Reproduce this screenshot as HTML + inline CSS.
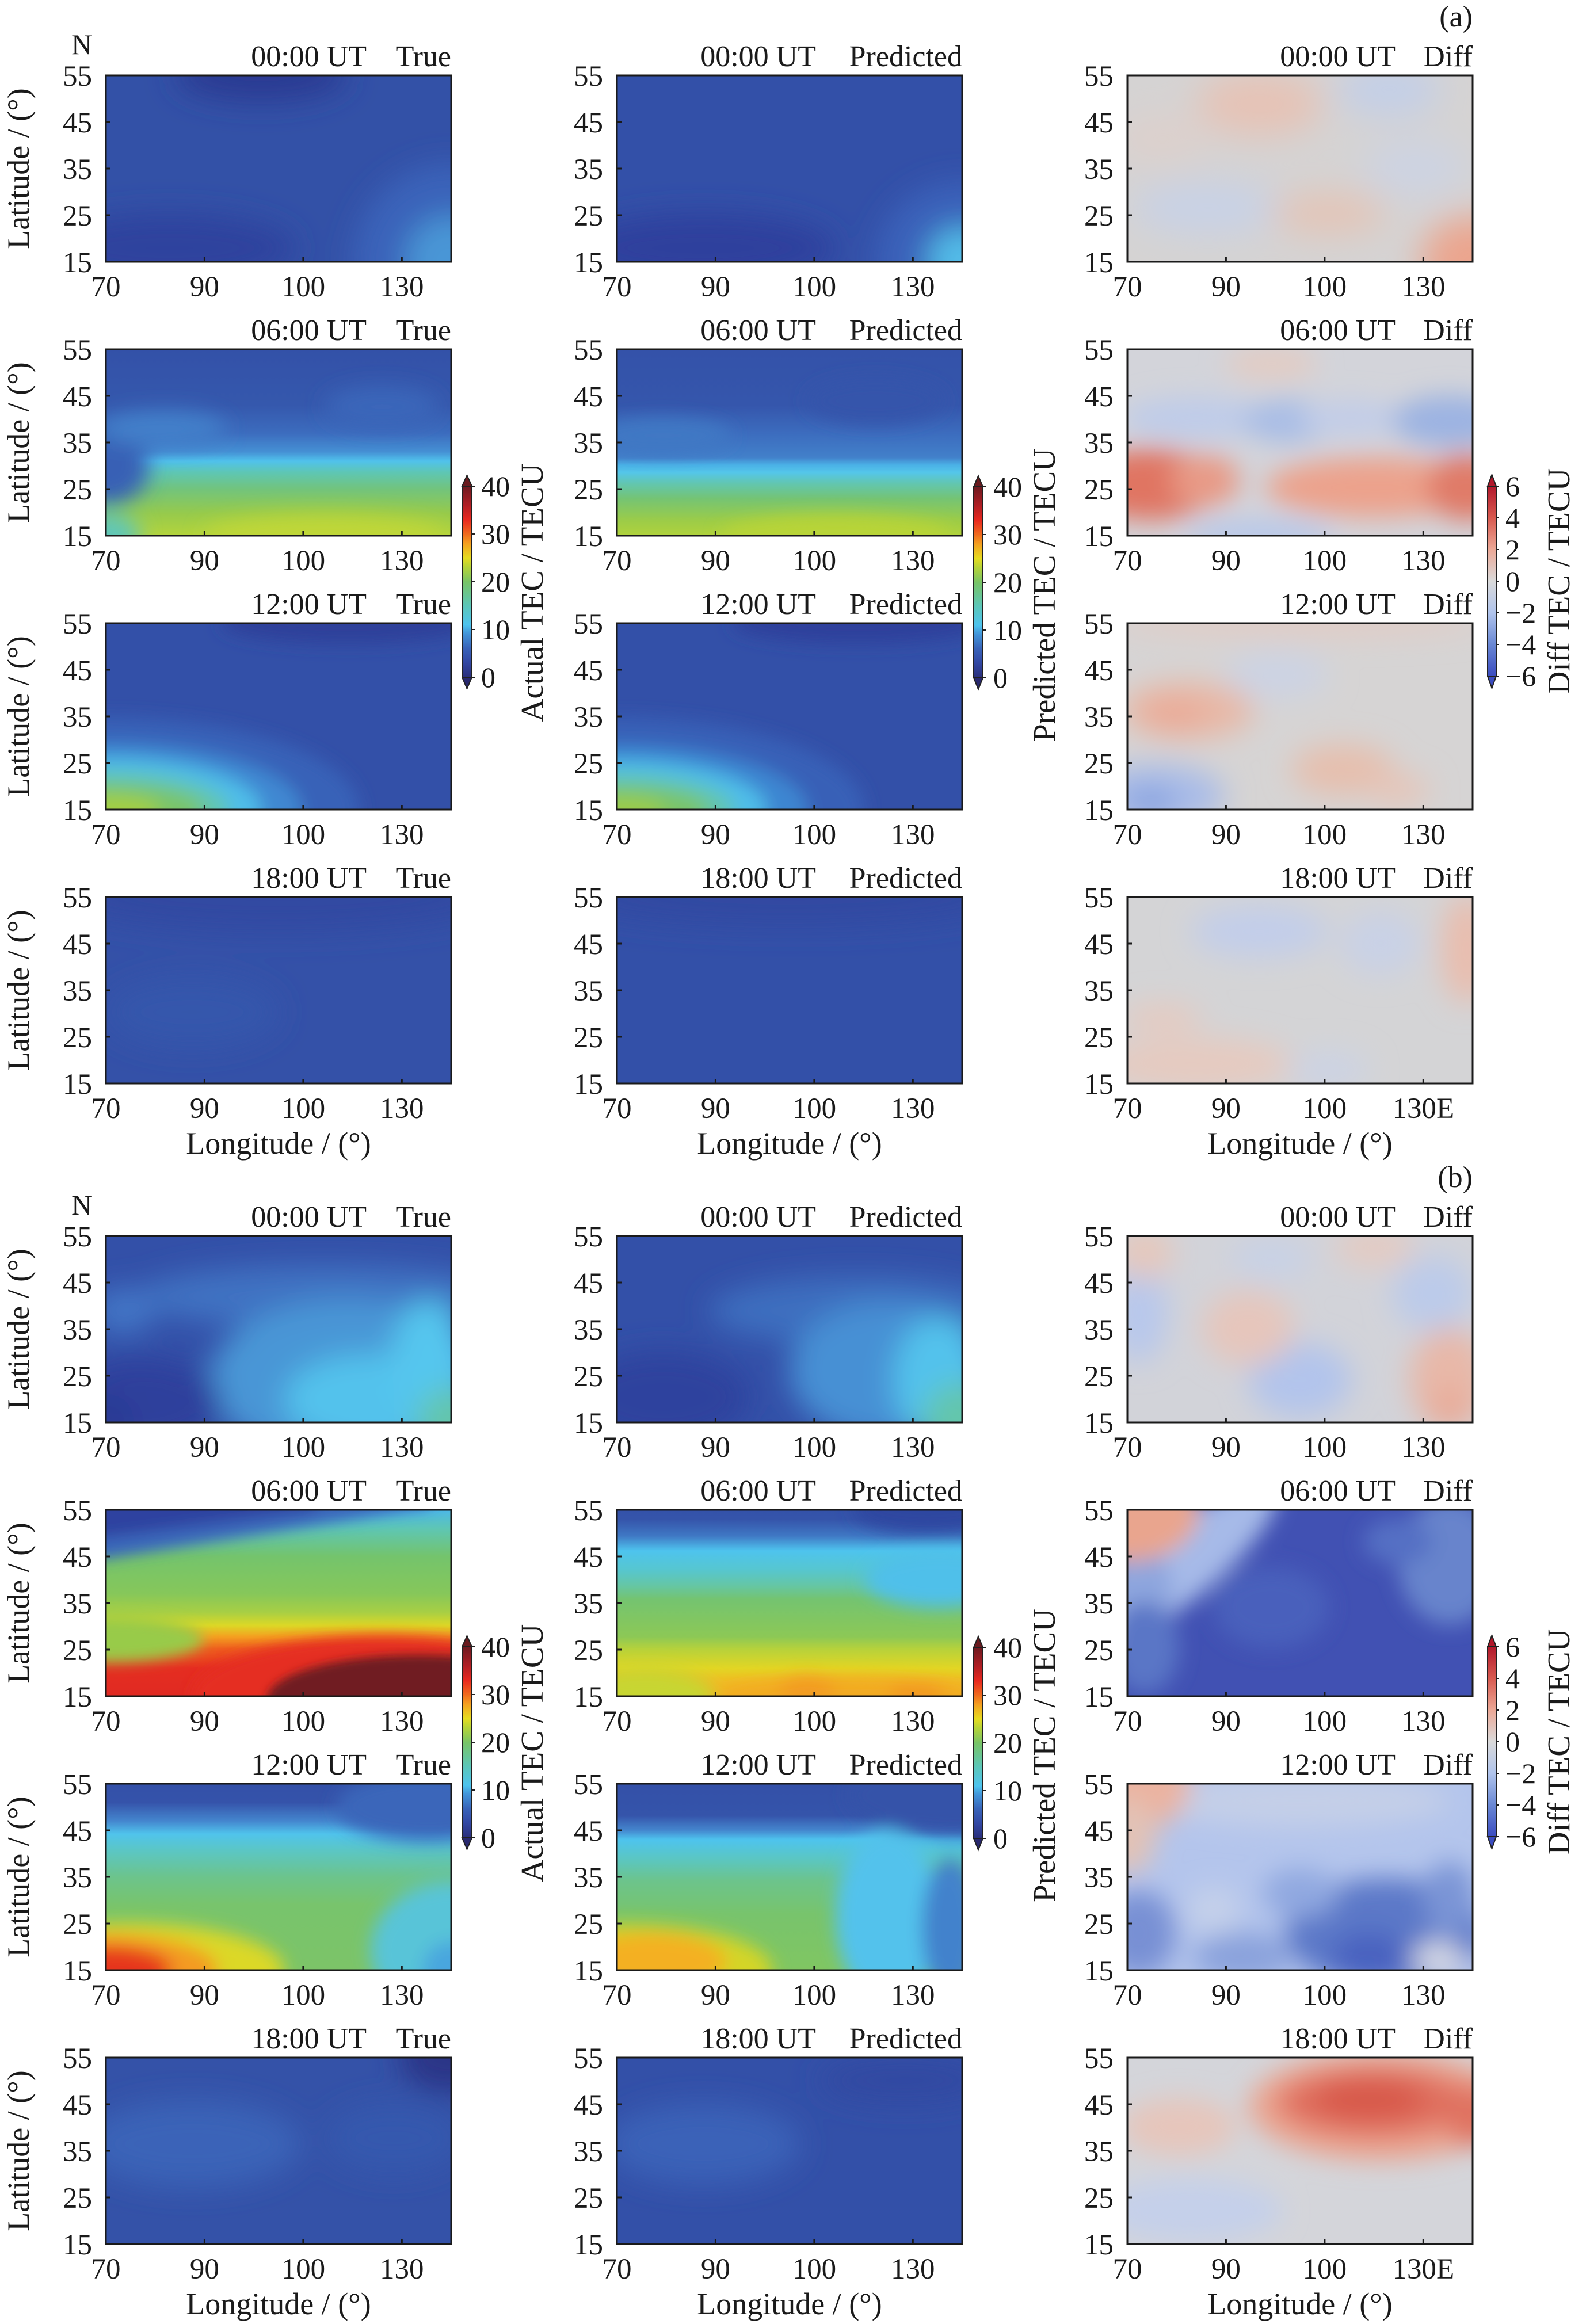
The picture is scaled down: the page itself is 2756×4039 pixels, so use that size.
<!DOCTYPE html>
<html>
<head>
<meta charset="utf-8">
<style>
html,body{margin:0;padding:0;background:#fff;}
svg{display:block;}
text{font-family:"Liberation Serif","DejaVu Serif",serif;fill:#1a1a1a;}
.yl text{font-size:51px;text-anchor:end;}
.xl text{font-size:51px;text-anchor:middle;}
.ti{font-size:52px;text-anchor:end;}
.ax{font-size:54px;text-anchor:middle;}
.cl{font-size:50px;}
.ct{font-size:55px;text-anchor:middle;}
</style>
</head>
<body>
<svg width="2756" height="4039" viewBox="0 0 2756 4039" xmlns="http://www.w3.org/2000/svg">
<defs>
<clipPath id="cp"><rect x="0" y="0" width="600" height="324"/></clipPath>
<filter id="f8" filterUnits="userSpaceOnUse" x="-400" y="-400" width="1400" height="1124"><feGaussianBlur stdDeviation="8"/></filter>
<filter id="f12" filterUnits="userSpaceOnUse" x="-400" y="-400" width="1400" height="1124"><feGaussianBlur stdDeviation="12"/></filter>
<filter id="f15" filterUnits="userSpaceOnUse" x="-400" y="-400" width="1400" height="1124"><feGaussianBlur stdDeviation="15"/></filter>
<filter id="f18" filterUnits="userSpaceOnUse" x="-400" y="-400" width="1400" height="1124"><feGaussianBlur stdDeviation="18"/></filter>
<filter id="f22" filterUnits="userSpaceOnUse" x="-400" y="-400" width="1400" height="1124"><feGaussianBlur stdDeviation="22"/></filter>
<filter id="f25" filterUnits="userSpaceOnUse" x="-400" y="-400" width="1400" height="1124"><feGaussianBlur stdDeviation="25"/></filter>
<filter id="f30" filterUnits="userSpaceOnUse" x="-400" y="-400" width="1400" height="1124"><feGaussianBlur stdDeviation="30"/></filter>
<linearGradient id="cbT" x1="0" y1="0" x2="0" y2="1">
<stop offset="0" stop-color="#6e1a20"/><stop offset="0.1" stop-color="#b01e24"/><stop offset="0.175" stop-color="#e8281f"/>
<stop offset="0.25" stop-color="#f06a1e"/><stop offset="0.3" stop-color="#f4a020"/><stop offset="0.375" stop-color="#e6dc20"/>
<stop offset="0.42" stop-color="#b8d436"/><stop offset="0.5" stop-color="#78c466"/><stop offset="0.625" stop-color="#5cc6b8"/>
<stop offset="0.725" stop-color="#4ec4ee"/><stop offset="0.77" stop-color="#4296da"/><stop offset="0.85" stop-color="#3862b8"/>
<stop offset="0.92" stop-color="#3248a4"/><stop offset="1" stop-color="#2a2f7c"/>
</linearGradient>
<linearGradient id="cbD" x1="0" y1="0" x2="0" y2="1">
<stop offset="0" stop-color="#b2182b"/><stop offset="0.167" stop-color="#d85a50"/><stop offset="0.333" stop-color="#eca896"/>
<stop offset="0.5" stop-color="#dadada"/><stop offset="0.667" stop-color="#b0c4ec"/><stop offset="0.833" stop-color="#6a88d4"/>
<stop offset="1" stop-color="#3b4cc0"/>
</linearGradient>
<linearGradient id="ga2t" x1="0" y1="0" x2="0" y2="1">
<stop offset="0" stop-color="#3351a8"/><stop offset="0.3" stop-color="#3558ad"/><stop offset="0.45" stop-color="#3c6cbe"/>
<stop offset="0.55" stop-color="#4590d4"/><stop offset="0.6" stop-color="#50c2ec"/><stop offset="0.66" stop-color="#5ec6b4"/>
<stop offset="0.75" stop-color="#72c47c"/><stop offset="0.88" stop-color="#96ca4c"/><stop offset="1" stop-color="#b4d43c"/>
</linearGradient>
<linearGradient id="ga2p" x1="0" y1="0" x2="0" y2="1">
<stop offset="0" stop-color="#3452a9"/><stop offset="0.3" stop-color="#3556ac"/><stop offset="0.45" stop-color="#3c6cbe"/>
<stop offset="0.58" stop-color="#4280ca"/><stop offset="0.62" stop-color="#4ab0e6"/><stop offset="0.66" stop-color="#54c6ea"/>
<stop offset="0.72" stop-color="#62c6b0"/><stop offset="0.8" stop-color="#74c474"/><stop offset="0.92" stop-color="#9ccc48"/>
<stop offset="1" stop-color="#b0d23c"/>
</linearGradient>
<linearGradient id="gb2t" x1="0" y1="0" x2="0" y2="1">
<stop offset="0" stop-color="#4cb8e8"/><stop offset="0.1" stop-color="#5ec6b4"/><stop offset="0.25" stop-color="#74c46c"/>
<stop offset="0.45" stop-color="#86c75a"/><stop offset="0.55" stop-color="#a8cf44"/><stop offset="0.62" stop-color="#dcd826"/>
<stop offset="0.68" stop-color="#f4a020"/><stop offset="0.75" stop-color="#ee5a1e"/><stop offset="0.85" stop-color="#e52d21"/>
<stop offset="1" stop-color="#e02a22"/>
</linearGradient>
<linearGradient id="gb2p" x1="0" y1="0" x2="0" y2="1">
<stop offset="0" stop-color="#3452a9"/><stop offset="0.05" stop-color="#3554aa"/><stop offset="0.14" stop-color="#3f78c4"/>
<stop offset="0.22" stop-color="#4ec4ee"/><stop offset="0.32" stop-color="#56c6d0"/><stop offset="0.4" stop-color="#64c6a8"/>
<stop offset="0.48" stop-color="#74c470"/><stop offset="0.68" stop-color="#8cc856"/><stop offset="0.75" stop-color="#b8d23a"/>
<stop offset="0.85" stop-color="#e2d624"/><stop offset="0.92" stop-color="#f0bc24"/><stop offset="1" stop-color="#f2b020"/>
</linearGradient>
<linearGradient id="gb3t" x1="0" y1="0" x2="0" y2="1">
<stop offset="0" stop-color="#3350a8"/><stop offset="0.1" stop-color="#3553aa"/><stop offset="0.2" stop-color="#4486ce"/>
<stop offset="0.27" stop-color="#50c4ec"/><stop offset="0.35" stop-color="#5ac6c8"/><stop offset="0.5" stop-color="#6cc48c"/>
<stop offset="0.65" stop-color="#78c46c"/><stop offset="1" stop-color="#7cc468"/>
</linearGradient>
<linearGradient id="gb3p" x1="0" y1="0" x2="0" y2="1">
<stop offset="0" stop-color="#3350a8"/><stop offset="0.17" stop-color="#3554aa"/><stop offset="0.25" stop-color="#4486ce"/>
<stop offset="0.3" stop-color="#4ec4ee"/><stop offset="0.4" stop-color="#5ac6c4"/><stop offset="0.52" stop-color="#6cc48c"/>
<stop offset="0.7" stop-color="#78c46c"/><stop offset="1" stop-color="#80c662"/>
</linearGradient>
<g id="fr">
<rect x="0" y="0" width="600" height="324" fill="none" stroke="#1a1a1a" stroke-width="3"/>
<path d="M0 81h8M0 162h8M0 243h8M171.4 324v-8M342.9 324v-8M514.3 324v-8" stroke="#1a1a1a" stroke-width="3"/>
</g>
</defs>

<!-- ===================== (a) ===================== -->
<text x="2559" y="46" style="font-size:52px;text-anchor:end">(a)</text>
<text x="142" y="94" style="font-size:50px;text-anchor:middle">N</text>

<!-- a row1 True -->
<g transform="translate(184,131)">
<g clip-path="url(#cp)"><rect width="600" height="324" fill="#3351a7"/>
<g filter="url(#f25)">
<ellipse cx="270" cy="0" rx="150" ry="45" fill="#2b3b93"/>
<ellipse cx="110" cy="300" rx="220" ry="60" fill="#2e429e"/>
<ellipse cx="600" cy="324" rx="170" ry="170" fill="#3b64ba"/>
<ellipse cx="600" cy="324" rx="80" ry="80" fill="#4a96d6"/>
</g></g>
<use href="#fr"/>
<g class="yl"><text x="-24" y="18">55</text><text x="-24" y="99">45</text><text x="-24" y="180">35</text><text x="-24" y="261">25</text><text x="-24" y="342">15</text></g>
<g class="xl"><text x="0" y="384">70</text><text x="171.4" y="384">90</text><text x="342.9" y="384">100</text><text x="514.3" y="384">130</text></g>
<text class="ti" x="453" y="-16">00:00 UT</text><text class="ti" x="600" y="-16">True</text>
</g>
<!-- a row1 Pred -->
<g transform="translate(1072,131)">
<g clip-path="url(#cp)"><rect width="600" height="324" fill="#3350a8"/>
<g filter="url(#f25)">
<ellipse cx="150" cy="300" rx="230" ry="60" fill="#2e419d"/>
<ellipse cx="600" cy="324" rx="150" ry="140" fill="#3a62ba"/>
<ellipse cx="600" cy="324" rx="60" ry="60" fill="#52bce8"/>
</g></g>
<use href="#fr"/>
<g class="yl"><text x="-24" y="18">55</text><text x="-24" y="99">45</text><text x="-24" y="180">35</text><text x="-24" y="261">25</text><text x="-24" y="342">15</text></g>
<g class="xl"><text x="0" y="384">70</text><text x="171.4" y="384">90</text><text x="342.9" y="384">100</text><text x="514.3" y="384">130</text></g>
<text class="ti" x="346" y="-16">00:00 UT</text><text class="ti" x="600" y="-16">Predicted</text>
</g>
<!-- a row1 Diff -->
<g transform="translate(1959,131)">
<g clip-path="url(#cp)"><rect width="600" height="324" fill="#d5d3d3"/>
<g filter="url(#f30)">
<ellipse cx="230" cy="50" rx="110" ry="55" fill="#e6c3b6"/>
<ellipse cx="455" cy="25" rx="90" ry="45" fill="#c3cfe8"/>
<ellipse cx="140" cy="230" rx="130" ry="45" fill="#c8d2e6"/>
<ellipse cx="350" cy="240" rx="100" ry="35" fill="#e4c4b6"/>
<ellipse cx="600" cy="324" rx="90" ry="80" fill="#eba58e"/>
<ellipse cx="60" cy="110" rx="80" ry="40" fill="#ddd0cc"/>
<ellipse cx="500" cy="160" rx="90" ry="50" fill="#cdd3e2"/>
</g></g>
<use href="#fr"/>
<g class="yl"><text x="-24" y="18">55</text><text x="-24" y="99">45</text><text x="-24" y="180">35</text><text x="-24" y="261">25</text><text x="-24" y="342">15</text></g>
<g class="xl"><text x="0" y="384">70</text><text x="171.4" y="384">90</text><text x="342.9" y="384">100</text><text x="514.3" y="384">130</text></g>
<text class="ti" x="466" y="-16">00:00 UT</text><text class="ti" x="600" y="-16">Diff</text>
</g>

<!-- a row2 True -->
<g transform="translate(184,607)">
<g clip-path="url(#cp)"><rect width="600" height="324" fill="url(#ga2t)"/>
<g filter="url(#f18)">
<ellipse cx="0" cy="205" rx="75" ry="65" fill="#3860b5"/>
<ellipse cx="100" cy="138" rx="110" ry="30" fill="#4280ca"/>
<ellipse cx="480" cy="100" rx="100" ry="35" fill="#3a66ba"/>
<ellipse cx="0" cy="324" rx="60" ry="40" fill="#5ec6b8"/>
<ellipse cx="380" cy="324" rx="210" ry="35" fill="#c0d738"/>
</g></g>
<use href="#fr"/>
<g class="yl"><text x="-24" y="18">55</text><text x="-24" y="99">45</text><text x="-24" y="180">35</text><text x="-24" y="261">25</text><text x="-24" y="342">15</text></g>
<g class="xl"><text x="0" y="384">70</text><text x="171.4" y="384">90</text><text x="342.9" y="384">100</text><text x="514.3" y="384">130</text></g>
<text class="ti" x="453" y="-16">06:00 UT</text><text class="ti" x="600" y="-16">True</text>
</g>
<!-- a row2 Pred -->
<g transform="translate(1072,607)">
<g clip-path="url(#cp)"><rect width="600" height="324" fill="url(#ga2p)"/>
<g filter="url(#f15)">
<ellipse cx="380" cy="324" rx="200" ry="35" fill="#b8d438"/>
<ellipse cx="80" cy="150" rx="120" ry="30" fill="#3f78c4"/>
<ellipse cx="450" cy="90" rx="120" ry="40" fill="#3454ab"/>
</g></g>
<use href="#fr"/>
<g class="yl"><text x="-24" y="18">55</text><text x="-24" y="99">45</text><text x="-24" y="180">35</text><text x="-24" y="261">25</text><text x="-24" y="342">15</text></g>
<g class="xl"><text x="0" y="384">70</text><text x="171.4" y="384">90</text><text x="342.9" y="384">100</text><text x="514.3" y="384">130</text></g>
<text class="ti" x="346" y="-16">06:00 UT</text><text class="ti" x="600" y="-16">Predicted</text>
</g>
<!-- a row2 Diff -->
<g transform="translate(1959,607)">
<g clip-path="url(#cp)"><rect width="600" height="324" fill="#d3d4da"/>
<g filter="url(#f22)">
<ellipse cx="250" cy="25" rx="80" ry="30" fill="#e2ccc4"/>
<ellipse cx="120" cy="120" rx="130" ry="38" fill="#bfcce9"/>
<ellipse cx="280" cy="125" rx="80" ry="38" fill="#a9bde6"/>
<ellipse cx="390" cy="120" rx="90" ry="32" fill="#c2cde8"/>
<ellipse cx="560" cy="125" rx="100" ry="45" fill="#9cb3e2"/>
<ellipse cx="40" cy="235" rx="120" ry="62" fill="#e07462"/>
<ellipse cx="135" cy="228" rx="60" ry="45" fill="#e89a86"/>
<ellipse cx="430" cy="240" rx="190" ry="52" fill="#eca28c"/>
<ellipse cx="590" cy="240" rx="70" ry="58" fill="#e07a68"/>
<ellipse cx="230" cy="322" rx="130" ry="26" fill="#b7c8ea"/>
</g></g>
<use href="#fr"/>
<g class="yl"><text x="-24" y="18">55</text><text x="-24" y="99">45</text><text x="-24" y="180">35</text><text x="-24" y="261">25</text><text x="-24" y="342">15</text></g>
<g class="xl"><text x="0" y="384">70</text><text x="171.4" y="384">90</text><text x="342.9" y="384">100</text><text x="514.3" y="384">130</text></g>
<text class="ti" x="466" y="-16">06:00 UT</text><text class="ti" x="600" y="-16">Diff</text>
</g>

<!-- a row3 True -->
<g transform="translate(184,1083)">
<g clip-path="url(#cp)"><rect width="600" height="324" fill="#3350a8"/>
<g filter="url(#f15)">
<ellipse cx="420" cy="0" rx="220" ry="35" fill="#2d3f9a"/>
<ellipse cx="0" cy="324" rx="440" ry="160" fill="#3862b8"/>
<ellipse cx="0" cy="324" rx="340" ry="115" fill="#3f88d2"/>
<ellipse cx="0" cy="324" rx="270" ry="90" fill="#4fbde9"/>
<ellipse cx="0" cy="324" rx="215" ry="66" fill="#62c6b0"/>
<ellipse cx="0" cy="324" rx="170" ry="44" fill="#7ac467"/>
<ellipse cx="0" cy="324" rx="95" ry="25" fill="#a4cf42"/>
</g></g>
<use href="#fr"/>
<g class="yl"><text x="-24" y="18">55</text><text x="-24" y="99">45</text><text x="-24" y="180">35</text><text x="-24" y="261">25</text><text x="-24" y="342">15</text></g>
<g class="xl"><text x="0" y="384">70</text><text x="171.4" y="384">90</text><text x="342.9" y="384">100</text><text x="514.3" y="384">130</text></g>
<text class="ti" x="453" y="-16">12:00 UT</text><text class="ti" x="600" y="-16">True</text>
</g>
<!-- a row3 Pred -->
<g transform="translate(1072,1083)">
<g clip-path="url(#cp)"><rect width="600" height="324" fill="#3350a8"/>
<g filter="url(#f15)">
<ellipse cx="420" cy="0" rx="220" ry="35" fill="#2e409b"/>
<ellipse cx="0" cy="324" rx="430" ry="160" fill="#3760b7"/>
<ellipse cx="0" cy="324" rx="330" ry="112" fill="#3e86d1"/>
<ellipse cx="0" cy="324" rx="260" ry="86" fill="#4fbde9"/>
<ellipse cx="0" cy="324" rx="205" ry="62" fill="#62c6b0"/>
<ellipse cx="0" cy="324" rx="160" ry="40" fill="#7ac467"/>
<ellipse cx="0" cy="324" rx="85" ry="22" fill="#9ccc48"/>
</g></g>
<use href="#fr"/>
<g class="yl"><text x="-24" y="18">55</text><text x="-24" y="99">45</text><text x="-24" y="180">35</text><text x="-24" y="261">25</text><text x="-24" y="342">15</text></g>
<g class="xl"><text x="0" y="384">70</text><text x="171.4" y="384">90</text><text x="342.9" y="384">100</text><text x="514.3" y="384">130</text></g>
<text class="ti" x="346" y="-16">12:00 UT</text><text class="ti" x="600" y="-16">Predicted</text>
</g>
<!-- a row3 Diff -->
<g transform="translate(1959,1083)">
<g clip-path="url(#cp)"><rect width="600" height="324" fill="#d6d4d4"/>
<g filter="url(#f25)">
<ellipse cx="300" cy="0" rx="320" ry="20" fill="#e3cac2"/>
<ellipse cx="105" cy="152" rx="115" ry="50" fill="#e8b8a6"/>
<ellipse cx="80" cy="158" rx="55" ry="30" fill="#eaab98"/>
<ellipse cx="50" cy="300" rx="120" ry="55" fill="#a9bce8"/>
<ellipse cx="40" cy="312" rx="45" ry="26" fill="#87a2df"/>
<ellipse cx="260" cy="90" rx="90" ry="40" fill="#ccd3e4"/>
<ellipse cx="375" cy="255" rx="90" ry="45" fill="#e6bfae"/>
<ellipse cx="470" cy="290" rx="55" ry="30" fill="#e5c6ba"/>
</g></g>
<use href="#fr"/>
<g class="yl"><text x="-24" y="18">55</text><text x="-24" y="99">45</text><text x="-24" y="180">35</text><text x="-24" y="261">25</text><text x="-24" y="342">15</text></g>
<g class="xl"><text x="0" y="384">70</text><text x="171.4" y="384">90</text><text x="342.9" y="384">100</text><text x="514.3" y="384">130</text></g>
<text class="ti" x="466" y="-16">12:00 UT</text><text class="ti" x="600" y="-16">Diff</text>
</g>

<!-- a row4 True -->
<g transform="translate(184,1559)">
<g clip-path="url(#cp)"><rect width="600" height="324" fill="#3451a8"/>
<g filter="url(#f25)">
<ellipse cx="300" cy="0" rx="380" ry="60" fill="#3048a2"/>
<ellipse cx="150" cy="200" rx="150" ry="60" fill="#3556ac"/>
</g></g>
<use href="#fr"/>
<g class="yl"><text x="-24" y="18">55</text><text x="-24" y="99">45</text><text x="-24" y="180">35</text><text x="-24" y="261">25</text><text x="-24" y="342">15</text></g>
<g class="xl"><text x="0" y="384">70</text><text x="171.4" y="384">90</text><text x="342.9" y="384">100</text><text x="514.3" y="384">130</text></g>
<text class="ti" x="453" y="-16">18:00 UT</text><text class="ti" x="600" y="-16">True</text>
<text class="ax" x="300" y="446">Longitude / (°)</text>
</g>
<!-- a row4 Pred -->
<g transform="translate(1072,1559)">
<g clip-path="url(#cp)"><rect width="600" height="324" fill="#3350a8"/>
<g filter="url(#f25)">
<ellipse cx="300" cy="0" rx="380" ry="50" fill="#3149a2"/>
</g></g>
<use href="#fr"/>
<g class="yl"><text x="-24" y="18">55</text><text x="-24" y="99">45</text><text x="-24" y="180">35</text><text x="-24" y="261">25</text><text x="-24" y="342">15</text></g>
<g class="xl"><text x="0" y="384">70</text><text x="171.4" y="384">90</text><text x="342.9" y="384">100</text><text x="514.3" y="384">130</text></g>
<text class="ti" x="346" y="-16">18:00 UT</text><text class="ti" x="600" y="-16">Predicted</text>
<text class="ax" x="300" y="446">Longitude / (°)</text>
</g>
<!-- a row4 Diff -->
<g transform="translate(1959,1559)">
<g clip-path="url(#cp)"><rect width="600" height="324" fill="#d4d4d6"/>
<g filter="url(#f25)">
<ellipse cx="230" cy="60" rx="120" ry="45" fill="#c2ceea"/>
<ellipse cx="440" cy="80" rx="70" ry="55" fill="#c9d1e6"/>
<ellipse cx="590" cy="90" rx="45" ry="95" fill="#e9bdae"/>
<ellipse cx="120" cy="290" rx="170" ry="45" fill="#e6cac0"/>
<ellipse cx="60" cy="210" rx="70" ry="25" fill="#e6cac0"/>
<ellipse cx="350" cy="300" rx="70" ry="32" fill="#ccd3e4"/>
</g></g>
<use href="#fr"/>
<g class="yl"><text x="-24" y="18">55</text><text x="-24" y="99">45</text><text x="-24" y="180">35</text><text x="-24" y="261">25</text><text x="-24" y="342">15</text></g>
<g class="xl"><text x="0" y="384">70</text><text x="171.4" y="384">90</text><text x="342.9" y="384">100</text><text x="514.3" y="384">130E</text></g>
<text class="ti" x="466" y="-16">18:00 UT</text><text class="ti" x="600" y="-16">Diff</text>
<text class="ax" x="300" y="446">Longitude / (°)</text>
</g>

<!-- latitude labels (a) -->
<text class="ax" transform="translate(50,293) rotate(-90)">Latitude / (°)</text>
<text class="ax" transform="translate(50,769) rotate(-90)">Latitude / (°)</text>
<text class="ax" transform="translate(50,1245) rotate(-90)">Latitude / (°)</text>
<text class="ax" transform="translate(50,1721) rotate(-90)">Latitude / (°)</text>

<!-- colorbars (a) -->
<g>
<rect x="803" y="845" width="17" height="332" fill="url(#cbT)" stroke="#222" stroke-width="2"/>
<path d="M803 845 L811.5 826 L820 845Z" fill="#6a1a1e" stroke="#222" stroke-width="2"/>
<path d="M803 1177 L811.5 1197 L820 1177Z" fill="#28286e" stroke="#222" stroke-width="2"/>
<path d="M820 845h5M820 928h5M820 1011h5M820 1094h5M820 1177h5" stroke="#222" stroke-width="2"/>
<text class="cl" x="836" y="862">40</text><text class="cl" x="836" y="945">30</text><text class="cl" x="836" y="1028">20</text><text class="cl" x="836" y="1111">10</text><text class="cl" x="836" y="1194">0</text>
<text class="ct" transform="translate(943,1030) rotate(-90)">Actual TEC / TECU</text>

<rect x="1692" y="846" width="16" height="332" fill="url(#cbT)" stroke="#222" stroke-width="2"/>
<path d="M1692 846 L1700 827 L1708 846Z" fill="#6a1a1e" stroke="#222" stroke-width="2"/>
<path d="M1692 1178 L1700 1198 L1708 1178Z" fill="#28286e" stroke="#222" stroke-width="2"/>
<path d="M1708 846h5M1708 929h5M1708 1012h5M1708 1095h5M1708 1178h5" stroke="#222" stroke-width="2"/>
<text class="cl" x="1726" y="863">40</text><text class="cl" x="1726" y="946">30</text><text class="cl" x="1726" y="1029">20</text><text class="cl" x="1726" y="1112">10</text><text class="cl" x="1726" y="1195">0</text>
<text class="ct" transform="translate(1833,1034) rotate(-90)">Predicted TEC / TECU</text>

<rect x="2585" y="845" width="15" height="330" fill="url(#cbD)" stroke="#222" stroke-width="2"/>
<path d="M2585 845 L2592.5 825 L2600 845Z" fill="#b2182b" stroke="#222" stroke-width="2"/>
<path d="M2585 1175 L2592.5 1196 L2600 1175Z" fill="#3b4cc0" stroke="#222" stroke-width="2"/>
<path d="M2600 845h5M2600 900h5M2600 955h5M2600 1010h5M2600 1065h5M2600 1120h5M2600 1175h5" stroke="#222" stroke-width="2"/>
<text class="cl" x="2616" y="862">6</text><text class="cl" x="2616" y="917">4</text><text class="cl" x="2616" y="972">2</text><text class="cl" x="2616" y="1027">0</text><text class="cl" x="2616" y="1082">−2</text><text class="cl" x="2616" y="1137">−4</text><text class="cl" x="2616" y="1192">−6</text>
<text class="ct" transform="translate(2727,1010) rotate(-90)">Diff TEC / TECU</text>
</g>

<!-- ===================== (b) ===================== -->
<text x="2559" y="2063" style="font-size:52px;text-anchor:end">(b)</text>
<text x="142" y="2111" style="font-size:50px;text-anchor:middle">N</text>

<!-- b row1 True -->
<g transform="translate(184,2148)">
<g clip-path="url(#cp)"><rect width="600" height="324" fill="#3350a8"/>
<g filter="url(#f25)">
<ellipse cx="380" cy="105" rx="330" ry="55" fill="#3f72c2"/>
<ellipse cx="30" cy="130" rx="55" ry="40" fill="#4276c6"/>
<ellipse cx="420" cy="250" rx="240" ry="140" fill="#4a96d6"/>
<ellipse cx="460" cy="285" rx="150" ry="80" fill="#52c2ec"/>
<ellipse cx="560" cy="220" rx="65" ry="110" fill="#55c6ee"/>
<ellipse cx="600" cy="324" rx="60" ry="60" fill="#64c6ac"/>
<ellipse cx="60" cy="290" rx="140" ry="80" fill="#2e409c"/>
<ellipse cx="0" cy="324" rx="50" ry="50" fill="#2c3a94"/>
</g></g>
<use href="#fr"/>
<g class="yl"><text x="-24" y="18">55</text><text x="-24" y="99">45</text><text x="-24" y="180">35</text><text x="-24" y="261">25</text><text x="-24" y="342">15</text></g>
<g class="xl"><text x="0" y="384">70</text><text x="171.4" y="384">90</text><text x="342.9" y="384">100</text><text x="514.3" y="384">130</text></g>
<text class="ti" x="453" y="-16">00:00 UT</text><text class="ti" x="600" y="-16">True</text>
</g>
<!-- b row1 Pred -->
<g transform="translate(1072,2148)">
<g clip-path="url(#cp)"><rect width="600" height="324" fill="#3350a8"/>
<g filter="url(#f25)">
<ellipse cx="420" cy="130" rx="260" ry="60" fill="#3d6ebf"/>
<ellipse cx="470" cy="235" rx="170" ry="120" fill="#4690d4"/>
<ellipse cx="560" cy="250" rx="80" ry="110" fill="#52c2ec"/>
<ellipse cx="600" cy="324" rx="70" ry="70" fill="#64c6ac"/>
<ellipse cx="80" cy="280" rx="150" ry="80" fill="#2f439e"/>
</g></g>
<use href="#fr"/>
<g class="yl"><text x="-24" y="18">55</text><text x="-24" y="99">45</text><text x="-24" y="180">35</text><text x="-24" y="261">25</text><text x="-24" y="342">15</text></g>
<g class="xl"><text x="0" y="384">70</text><text x="171.4" y="384">90</text><text x="342.9" y="384">100</text><text x="514.3" y="384">130</text></g>
<text class="ti" x="346" y="-16">00:00 UT</text><text class="ti" x="600" y="-16">Predicted</text>
</g>
<!-- b row1 Diff -->
<g transform="translate(1959,2148)">
<g clip-path="url(#cp)"><rect width="600" height="324" fill="#d2d3d9"/>
<g filter="url(#f25)">
<ellipse cx="20" cy="130" rx="50" ry="90" fill="#b8c8ec"/>
<ellipse cx="300" cy="250" rx="90" ry="65" fill="#b2c4ec"/>
<ellipse cx="530" cy="100" rx="70" ry="65" fill="#bccbea"/>
<ellipse cx="250" cy="40" rx="70" ry="35" fill="#c8d1e6"/>
<ellipse cx="210" cy="160" rx="80" ry="65" fill="#e6c6bc"/>
<ellipse cx="30" cy="30" rx="50" ry="45" fill="#e6c8bc"/>
<ellipse cx="430" cy="20" rx="70" ry="35" fill="#e4cbc2"/>
<ellipse cx="560" cy="250" rx="70" ry="90" fill="#e8b8a8"/>
<ellipse cx="560" cy="300" rx="35" ry="35" fill="#e8aa98"/>
</g></g>
<use href="#fr"/>
<g class="yl"><text x="-24" y="18">55</text><text x="-24" y="99">45</text><text x="-24" y="180">35</text><text x="-24" y="261">25</text><text x="-24" y="342">15</text></g>
<g class="xl"><text x="0" y="384">70</text><text x="171.4" y="384">90</text><text x="342.9" y="384">100</text><text x="514.3" y="384">130</text></g>
<text class="ti" x="466" y="-16">00:00 UT</text><text class="ti" x="600" y="-16">Diff</text>
</g>

<!-- b row2 True -->
<g transform="translate(184,2624)">
<g clip-path="url(#cp)"><rect width="600" height="324" fill="url(#gb2t)"/>
<g filter="url(#f12)">
<polygon points="-50,-50 600,-50 560,-5 0,85 -50,92" fill="#3a66ba"/>
<polygon points="-50,-50 400,-50 360,0 0,48 -50,55" fill="#2f43a0"/>
<ellipse cx="0" cy="225" rx="170" ry="40" fill="#98cb4a"/>
<ellipse cx="480" cy="324" rx="330" ry="105" fill="#e52d21"/>
</g>
<g filter="url(#f8)">
<ellipse cx="545" cy="330" rx="265" ry="78" fill="#701a20"/>
</g></g>
<use href="#fr"/>
<g class="yl"><text x="-24" y="18">55</text><text x="-24" y="99">45</text><text x="-24" y="180">35</text><text x="-24" y="261">25</text><text x="-24" y="342">15</text></g>
<g class="xl"><text x="0" y="384">70</text><text x="171.4" y="384">90</text><text x="342.9" y="384">100</text><text x="514.3" y="384">130</text></g>
<text class="ti" x="453" y="-16">06:00 UT</text><text class="ti" x="600" y="-16">True</text>
</g>
<!-- b row2 Pred -->
<g transform="translate(1072,2624)">
<g clip-path="url(#cp)"><rect width="600" height="324" fill="url(#gb2p)"/>
<g filter="url(#f15)">
<ellipse cx="540" cy="0" rx="130" ry="40" fill="#2f46a0"/>
<ellipse cx="560" cy="120" rx="130" ry="50" fill="#50c0ea"/>
<ellipse cx="50" cy="324" rx="120" ry="50" fill="#c8d630"/>
<ellipse cx="400" cy="324" rx="220" ry="30" fill="#f2aa22"/>
<ellipse cx="330" cy="312" rx="50" ry="22" fill="#f39a20"/>
<ellipse cx="520" cy="320" rx="50" ry="18" fill="#f39620"/>
</g></g>
<use href="#fr"/>
<g class="yl"><text x="-24" y="18">55</text><text x="-24" y="99">45</text><text x="-24" y="180">35</text><text x="-24" y="261">25</text><text x="-24" y="342">15</text></g>
<g class="xl"><text x="0" y="384">70</text><text x="171.4" y="384">90</text><text x="342.9" y="384">100</text><text x="514.3" y="384">130</text></g>
<text class="ti" x="346" y="-16">06:00 UT</text><text class="ti" x="600" y="-16">Predicted</text>
</g>
<!-- b row2 Diff -->
<g transform="translate(1959,2624)">
<g clip-path="url(#cp)"><rect width="600" height="324" fill="#4151b3"/>
<g filter="url(#f18)">
<ellipse cx="0" cy="0" rx="210" ry="60" transform="translate(95,95) rotate(-40)" fill="#a6bae8"/>
<ellipse cx="20" cy="150" rx="60" ry="90" fill="#8ea6de"/>
<ellipse cx="0" cy="0" rx="125" ry="90" fill="#e9a58e"/>
<ellipse cx="560" cy="90" rx="90" ry="110" fill="#6784cc"/>
<ellipse cx="470" cy="55" rx="60" ry="40" fill="#5570c4"/>
<ellipse cx="30" cy="240" rx="60" ry="80" fill="#5a76c6"/>
<ellipse cx="250" cy="170" rx="100" ry="70" fill="#4a60bc"/>
</g></g>
<use href="#fr"/>
<g class="yl"><text x="-24" y="18">55</text><text x="-24" y="99">45</text><text x="-24" y="180">35</text><text x="-24" y="261">25</text><text x="-24" y="342">15</text></g>
<g class="xl"><text x="0" y="384">70</text><text x="171.4" y="384">90</text><text x="342.9" y="384">100</text><text x="514.3" y="384">130</text></g>
<text class="ti" x="466" y="-16">06:00 UT</text><text class="ti" x="600" y="-16">Diff</text>
</g>

<!-- b row3 True -->
<g transform="translate(184,3100)">
<g clip-path="url(#cp)"><rect width="600" height="324" fill="url(#gb3t)"/>
<g filter="url(#f15)">
<ellipse cx="560" cy="40" rx="160" ry="60" fill="#3a66ba"/>
<ellipse cx="600" cy="290" rx="140" ry="120" fill="#58c4d8"/>
<ellipse cx="600" cy="324" rx="50" ry="50" fill="#4aa6de"/>
<ellipse cx="40" cy="324" rx="270" ry="82" fill="#dcd826"/>
<ellipse cx="0" cy="324" rx="195" ry="62" fill="#f49a20"/>
<ellipse cx="0" cy="324" rx="115" ry="42" fill="#e6361f"/>
</g></g>
<use href="#fr"/>
<g class="yl"><text x="-24" y="18">55</text><text x="-24" y="99">45</text><text x="-24" y="180">35</text><text x="-24" y="261">25</text><text x="-24" y="342">15</text></g>
<g class="xl"><text x="0" y="384">70</text><text x="171.4" y="384">90</text><text x="342.9" y="384">100</text><text x="514.3" y="384">130</text></g>
<text class="ti" x="453" y="-16">12:00 UT</text><text class="ti" x="600" y="-16">True</text>
</g>
<!-- b row3 Pred -->
<g transform="translate(1072,3100)">
<g clip-path="url(#cp)"><rect width="600" height="324" fill="url(#gb3p)"/>
<g filter="url(#f15)">
<ellipse cx="600" cy="20" rx="200" ry="70" fill="#3452a9"/>
<ellipse cx="470" cy="230" rx="90" ry="150" fill="#52c2ec"/>
<ellipse cx="580" cy="250" rx="50" ry="120" fill="#4282cc"/>
<ellipse cx="20" cy="324" rx="250" ry="80" fill="#d4d528"/>
<ellipse cx="60" cy="310" rx="130" ry="50" fill="#f4b020"/>
</g></g>
<use href="#fr"/>
<g class="yl"><text x="-24" y="18">55</text><text x="-24" y="99">45</text><text x="-24" y="180">35</text><text x="-24" y="261">25</text><text x="-24" y="342">15</text></g>
<g class="xl"><text x="0" y="384">70</text><text x="171.4" y="384">90</text><text x="342.9" y="384">100</text><text x="514.3" y="384">130</text></g>
<text class="ti" x="346" y="-16">12:00 UT</text><text class="ti" x="600" y="-16">Predicted</text>
</g>
<!-- b row3 Diff -->
<g transform="translate(1959,3100)">
<g clip-path="url(#cp)"><rect width="600" height="324" fill="#b4c5ec"/>
<g filter="url(#f22)">
<ellipse cx="300" cy="30" rx="260" ry="45" fill="#c4cfe8"/>
<ellipse cx="0" cy="0" rx="110" ry="85" fill="#ebb3a0"/>
<ellipse cx="0" cy="90" rx="50" ry="65" fill="#e2c2b6"/>
<ellipse cx="450" cy="260" rx="175" ry="95" fill="#5b78c8"/>
<ellipse cx="420" cy="300" rx="65" ry="42" fill="#4a62c0"/>
<ellipse cx="20" cy="260" rx="65" ry="75" fill="#7890d4"/>
<ellipse cx="200" cy="300" rx="85" ry="42" fill="#8aa2dc"/>
<ellipse cx="300" cy="190" rx="65" ry="42" fill="#90a8e0"/>
<ellipse cx="560" cy="200" rx="45" ry="65" fill="#7a94d6"/>
<ellipse cx="150" cy="220" rx="45" ry="42" fill="#c4d0ea"/>
<ellipse cx="540" cy="305" rx="45" ry="32" fill="#d2d6e4"/>
</g></g>
<use href="#fr"/>
<g class="yl"><text x="-24" y="18">55</text><text x="-24" y="99">45</text><text x="-24" y="180">35</text><text x="-24" y="261">25</text><text x="-24" y="342">15</text></g>
<g class="xl"><text x="0" y="384">70</text><text x="171.4" y="384">90</text><text x="342.9" y="384">100</text><text x="514.3" y="384">130</text></g>
<text class="ti" x="466" y="-16">12:00 UT</text><text class="ti" x="600" y="-16">Diff</text>
</g>

<!-- b row4 True -->
<g transform="translate(184,3576)">
<g clip-path="url(#cp)"><rect width="600" height="324" fill="#3452a8"/>
<g filter="url(#f25)">
<ellipse cx="600" cy="0" rx="90" ry="60" fill="#2b3487"/>
<ellipse cx="150" cy="150" rx="190" ry="75" fill="#3a63b8"/>
<ellipse cx="500" cy="140" rx="120" ry="60" fill="#3658ae"/>
</g></g>
<use href="#fr"/>
<g class="yl"><text x="-24" y="18">55</text><text x="-24" y="99">45</text><text x="-24" y="180">35</text><text x="-24" y="261">25</text><text x="-24" y="342">15</text></g>
<g class="xl"><text x="0" y="384">70</text><text x="171.4" y="384">90</text><text x="342.9" y="384">100</text><text x="514.3" y="384">130</text></g>
<text class="ti" x="453" y="-16">18:00 UT</text><text class="ti" x="600" y="-16">True</text>
<text class="ax" x="300" y="446">Longitude / (°)</text>
</g>
<!-- b row4 Pred -->
<g transform="translate(1072,3576)">
<g clip-path="url(#cp)"><rect width="600" height="324" fill="#3350a8"/>
<g filter="url(#f25)">
<ellipse cx="150" cy="150" rx="170" ry="70" fill="#3a62b8"/>
<ellipse cx="500" cy="40" rx="150" ry="40" fill="#3048a2"/>
</g></g>
<use href="#fr"/>
<g class="yl"><text x="-24" y="18">55</text><text x="-24" y="99">45</text><text x="-24" y="180">35</text><text x="-24" y="261">25</text><text x="-24" y="342">15</text></g>
<g class="xl"><text x="0" y="384">70</text><text x="171.4" y="384">90</text><text x="342.9" y="384">100</text><text x="514.3" y="384">130</text></g>
<text class="ti" x="346" y="-16">18:00 UT</text><text class="ti" x="600" y="-16">Predicted</text>
<text class="ax" x="300" y="446">Longitude / (°)</text>
</g>
<!-- b row4 Diff -->
<g transform="translate(1959,3576)">
<g clip-path="url(#cp)"><rect width="600" height="324" fill="#d4d5da"/>
<g filter="url(#f22)">
<ellipse cx="440" cy="85" rx="230" ry="95" fill="#eaa591"/>
<ellipse cx="430" cy="78" rx="170" ry="60" fill="#e0705e"/>
<ellipse cx="420" cy="72" rx="95" ry="38" fill="#d85a4c"/>
<ellipse cx="600" cy="100" rx="45" ry="55" fill="#e07260"/>
<ellipse cx="90" cy="120" rx="100" ry="50" fill="#e6c6bc"/>
<ellipse cx="110" cy="265" rx="160" ry="55" fill="#c5d0ea"/>
</g></g>
<use href="#fr"/>
<g class="yl"><text x="-24" y="18">55</text><text x="-24" y="99">45</text><text x="-24" y="180">35</text><text x="-24" y="261">25</text><text x="-24" y="342">15</text></g>
<g class="xl"><text x="0" y="384">70</text><text x="171.4" y="384">90</text><text x="342.9" y="384">100</text><text x="514.3" y="384">130E</text></g>
<text class="ti" x="466" y="-16">18:00 UT</text><text class="ti" x="600" y="-16">Diff</text>
<text class="ax" x="300" y="446">Longitude / (°)</text>
</g>

<!-- latitude labels (b) -->
<text class="ax" transform="translate(50,2310) rotate(-90)">Latitude / (°)</text>
<text class="ax" transform="translate(50,2786) rotate(-90)">Latitude / (°)</text>
<text class="ax" transform="translate(50,3262) rotate(-90)">Latitude / (°)</text>
<text class="ax" transform="translate(50,3738) rotate(-90)">Latitude / (°)</text>

<!-- colorbars (b) -->
<g transform="translate(0,2017)">
<rect x="803" y="845" width="17" height="332" fill="url(#cbT)" stroke="#222" stroke-width="2"/>
<path d="M803 845 L811.5 826 L820 845Z" fill="#6a1a1e" stroke="#222" stroke-width="2"/>
<path d="M803 1177 L811.5 1197 L820 1177Z" fill="#28286e" stroke="#222" stroke-width="2"/>
<path d="M820 845h5M820 928h5M820 1011h5M820 1094h5M820 1177h5" stroke="#222" stroke-width="2"/>
<text class="cl" x="836" y="862">40</text><text class="cl" x="836" y="945">30</text><text class="cl" x="836" y="1028">20</text><text class="cl" x="836" y="1111">10</text><text class="cl" x="836" y="1194">0</text>
<text class="ct" transform="translate(943,1030) rotate(-90)">Actual TEC / TECU</text>

<rect x="1692" y="846" width="16" height="332" fill="url(#cbT)" stroke="#222" stroke-width="2"/>
<path d="M1692 846 L1700 827 L1708 846Z" fill="#6a1a1e" stroke="#222" stroke-width="2"/>
<path d="M1692 1178 L1700 1198 L1708 1178Z" fill="#28286e" stroke="#222" stroke-width="2"/>
<path d="M1708 846h5M1708 929h5M1708 1012h5M1708 1095h5M1708 1178h5" stroke="#222" stroke-width="2"/>
<text class="cl" x="1726" y="863">40</text><text class="cl" x="1726" y="946">30</text><text class="cl" x="1726" y="1029">20</text><text class="cl" x="1726" y="1112">10</text><text class="cl" x="1726" y="1195">0</text>
<text class="ct" transform="translate(1833,1034) rotate(-90)">Predicted TEC / TECU</text>

<rect x="2585" y="845" width="15" height="330" fill="url(#cbD)" stroke="#222" stroke-width="2"/>
<path d="M2585 845 L2592.5 825 L2600 845Z" fill="#b2182b" stroke="#222" stroke-width="2"/>
<path d="M2585 1175 L2592.5 1196 L2600 1175Z" fill="#3b4cc0" stroke="#222" stroke-width="2"/>
<path d="M2600 845h5M2600 900h5M2600 955h5M2600 1010h5M2600 1065h5M2600 1120h5M2600 1175h5" stroke="#222" stroke-width="2"/>
<text class="cl" x="2616" y="862">6</text><text class="cl" x="2616" y="917">4</text><text class="cl" x="2616" y="972">2</text><text class="cl" x="2616" y="1027">0</text><text class="cl" x="2616" y="1082">−2</text><text class="cl" x="2616" y="1137">−4</text><text class="cl" x="2616" y="1192">−6</text>
<text class="ct" transform="translate(2727,1010) rotate(-90)">Diff TEC / TECU</text>
</g>
</svg>
</body>
</html>
